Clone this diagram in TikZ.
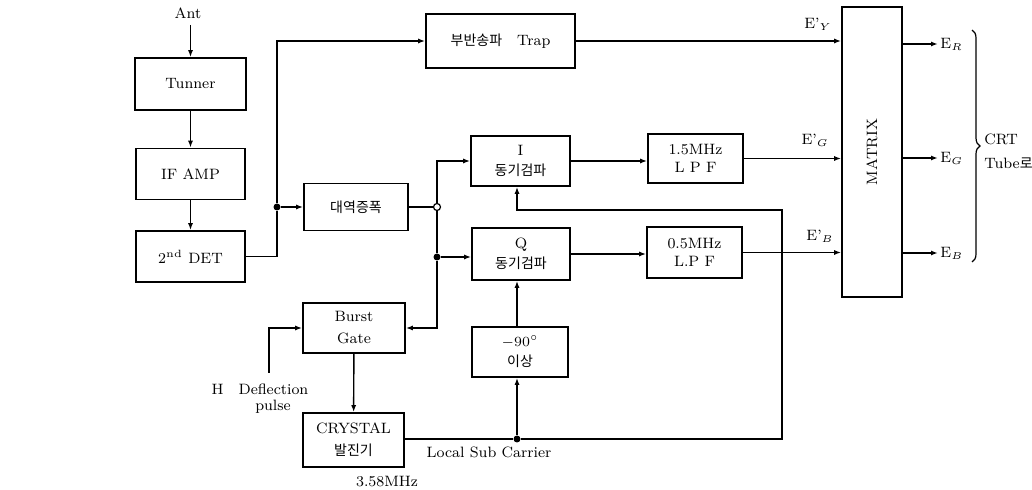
\documentclass[tikz,border=0pt]{standalone}
\usepackage{fontspec}
\newfontfamily\kr{Noto Sans CJK KR}
\usetikzlibrary{arrows.meta, calc, decorations.pathreplacing}
\tikzset{
  blk/.style={draw, line width=0.8pt, align=center, inner sep=1pt},
  sig/.style={line width=0.7pt, -{Latex[length=3.5pt,width=2.5pt]}},
  wire/.style={line width=0.7pt},
  dot/.style={circle, fill, inner sep=0pt, minimum size=3.5pt},
  lbl/.style={inner sep=1pt}
}
\begin{document}
\begin{tikzpicture}[x=0.5pt, y=-0.5pt, font=\fontsize{7.5}{9}\selectfont]
  \useasboundingbox (0,0) rectangle (1032,490);

  % blocks on the left
  \node[blk, minimum width=55.5pt, minimum height=26pt] (tun) at (190.5,84) {Tunner};
  \node[blk, minimum width=54.5pt, minimum height=25.5pt] (ifamp) at (190.5,174) {IF AMP};
  \node[blk, minimum width=54.5pt, minimum height=25.5pt] (det) at (190.5,256.5) {2$^{\mathrm{nd}}$ DET};
  \node[blk, minimum width=52pt, minimum height=23.5pt] (band) at (356,207) {\kr\fontsize{7}{8}\selectfont 대역증폭};
  \node[blk, minimum width=51pt, minimum height=25pt] (gate) at (354,328) {Burst\\[2pt]Gate};
  \node[blk, minimum width=50.5pt, minimum height=27pt] (xtal) at (353.5,440) {CRYSTAL\\[2pt]{\kr\fontsize{7}{8}\selectfont 발진기}};

  % blocks in the middle
  \node[blk, minimum width=74.5pt, minimum height=27pt] (trap) at (500.5,41) {{\kr\fontsize{7}{8}\selectfont 부반송파}\quad Trap};
  \node[blk, minimum width=49.5pt, minimum height=25pt] (idet) at (520.5,161) {I\\[1pt]{\kr\fontsize{7}{8}\selectfont 동기검파}};
  \node[blk, minimum width=49pt, minimum height=26pt] (qdet) at (521,254) {Q\\[1pt]{\kr\fontsize{7}{8}\selectfont 동기검파}};
  \node[blk, minimum width=48pt, minimum height=25pt] (shift) at (520,352) {$-90^\circ$\\[1pt]{\kr\fontsize{7}{8}\selectfont 이상}};
  \node[blk, minimum width=47.5pt, minimum height=24.5pt] (lpf1) at (695.5,158.5) {1.5MHz\\L P F};
  \node[blk, minimum width=47.5pt, minimum height=25.5pt] (lpf2) at (694.5,252.5) {0.5MHz\\L.P F};

  % matrix
  \node[blk, minimum width=30pt, minimum height=145pt] (mtx) at (872,152) {};
  \node[rotate=90] (mtxt) at (mtx) {MATRIX};

  % junctions
  \node[dot] (j1) at (277,207) {};
  \node[circle, draw, fill=white, line width=0.6pt, inner sep=0pt, minimum size=3.5pt] (j2) at (437,207) {};
  \node[dot] (j3) at (437,257) {};
  \node[dot] (j4) at (517,439) {};
  \coordinate (ant) at (190.5,25);
  \coordinate (hin) at (269,373);
  \coordinate (loop) at (782,210);

  % main chain
  \draw[sig] (ant) -- (tun.north);
  \draw[sig] (tun) -- (ifamp);
  \draw[sig] (ifamp) -- (det);
  \draw[wire] (det.east) -- (det.east -| j1) -- (j1);
  \draw[sig] (j1) |- (trap.west);
  \draw[sig] (j1) -- (band.west);
  \draw[wire] (band.east) -- (j2);
  \draw[sig] (j2) |- (idet.west);
  \draw[wire] (j2) -- (j3);
  \draw[sig] (j3) -- (j3 -| qdet.west);
  \draw[sig] (j3) |- (gate.east);
  \draw[sig] (hin) |- (gate.west);
  \draw[sig] (gate) -- (xtal);
  \draw[wire] (xtal.east |- j4) -- (j4);
  \draw[sig] (j4) -- (j4 |- shift.south);
  \draw[sig] (j4 |- shift.north) -- (j4 |- qdet.south);
  \draw[sig] (j4) -| (loop) -| (j4 |- idet.south);

  % to the matrix
  \draw[sig] (trap.east) -- (trap.east -| mtx.west);
  \draw[sig] (idet.east) -- (idet.east -| lpf1.west);
  \draw[sig] (qdet.east) -- (qdet.east -| lpf2.west);
  \draw[sig] (lpf1.east) -- (lpf1.east -| mtx.west);
  \draw[sig] (lpf2.east) -- (lpf2.east -| mtx.west);

  % matrix outputs
  \node[lbl, anchor=west] (er) at (938,44) {E$_R$};
  \node[lbl, anchor=west] (eg) at (938,158) {E$_G$};
  \node[lbl, anchor=west] (eb) at (938,253) {E$_B$};
  \draw[sig] (er.west -| mtx.east) -- (er.west);
  \draw[sig] (eg.west -| mtx.east) -- (eg.west);
  \draw[sig] (eb.west -| mtx.east) -- (eb.west);
  \coordinate (bt) at (972,30);
  \coordinate (bb) at (972,262);
  \draw[line width=0.6pt, decorate, decoration={brace, amplitude=4pt}] (bt) -- (bb);
  \node[lbl, anchor=west] (crt) at (982,139) {CRT};
  \node[lbl, anchor=west] (tube) at (982,163) {Tube{\kr\fontsize{7}{8}\selectfont 로}};

  % labels
  \node[lbl] (antl) at (188,13) {Ant};
  \node[lbl] (ey) at (818,24) {E'$_Y$};
  \node[lbl] (eg1) at (815,140) {E'$_G$};
  \node[lbl] (eb1) at (820,236) {E'$_B$};
  \node[lbl] (hdef) at (260,389) {H\quad Deflection};
  \node[lbl] (puls) at (273,407) {pulse};
  \node[lbl] (lsc) at (489,452) {Local Sub Carrier};
  \node[lbl] (freq) at (387,482) {3.58MHz};
\end{tikzpicture}
\end{document}
